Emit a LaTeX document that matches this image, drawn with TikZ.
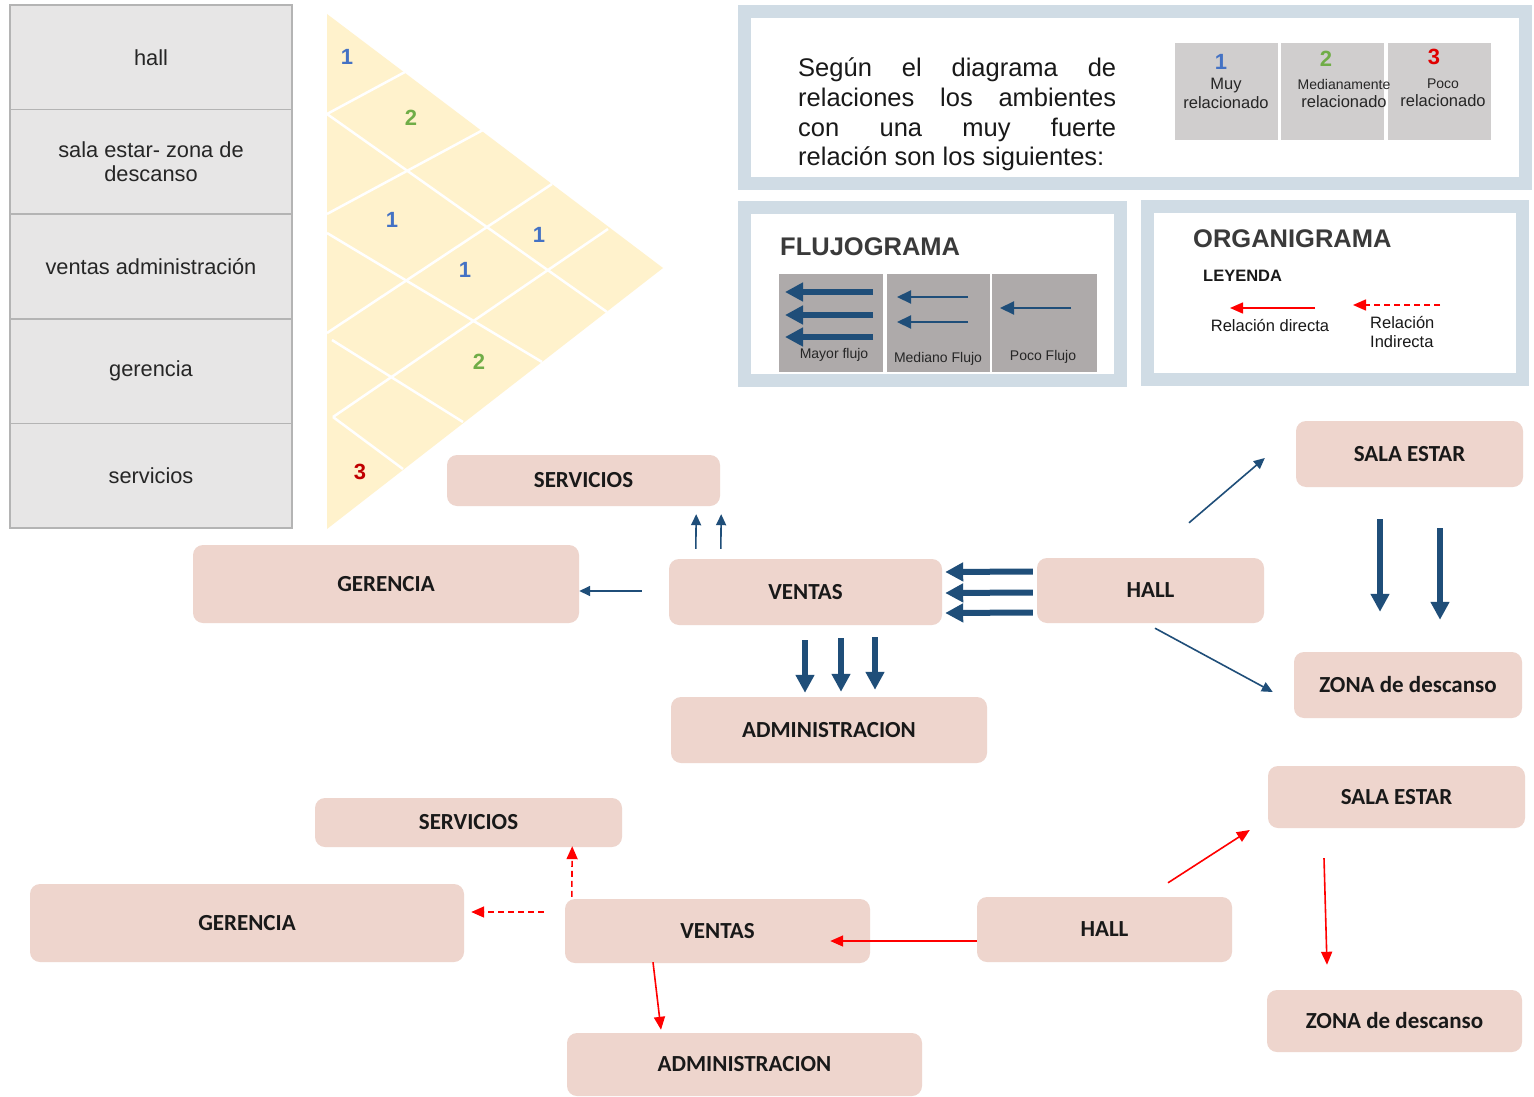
\documentclass[tikz,border=0pt]{standalone}
\usepackage{fontspec}
\setmainfont{Liberation Sans}
\newfontfamily\calib{Carlito}
\usetikzlibrary{arrows.meta}
\definecolor{framec}{HTML}{D0DCE5}
\definecolor{cellg}{HTML}{E7E6E6}
\definecolor{cellb}{HTML}{B4B4B4}
\definecolor{ytri}{HTML}{FFF2CC}
\definecolor{pinkbox}{HTML}{EED5CD}
\definecolor{dblue}{HTML}{1F4E79}
\definecolor{nblue}{HTML}{4472C4}
\definecolor{ngreen}{HTML}{70AD47}
\definecolor{nred}{HTML}{C00000}
\definecolor{nred2}{HTML}{E00000}
\definecolor{legg}{HTML}{D0CECE}
\definecolor{flug}{HTML}{AEAAAA}
\definecolor{titc}{HTML}{3A3A3A}
\definecolor{rred}{HTML}{FF0000}
\newcommand{\setfs}[2]{\fontsize{#1}{#2}\selectfont}
\tikzset{
  tcell/.style={draw=cellb, line width=1.5pt, fill=cellg, minimum width=282pt, minimum height=104.6pt, inner sep=0pt, align=center, font=\setfs{21.8}{23.5}, text=black!85},
  rbox/.style={fill=pinkbox, rounded corners=10pt, inner sep=0pt, font=\calib\bfseries\setfs{23}{26}, text=black!90},
  framebox/.style={draw=framec, line width=13pt, fill=white, inner sep=0pt},
  thickarr/.style={draw=dblue, line width=6pt, -{Triangle[width=18pt,length=18pt]}},
  thinarr/.style={draw=dblue, line width=1.6pt, -{Triangle[width=10pt,length=11pt]}},
  medarr/.style={draw=dblue, line width=2.2pt, -{Triangle[width=13pt,length=14pt]}},
  redarr/.style={draw=rred, line width=1.6pt, -{Triangle[width=11pt,length=13pt]}},
  reddash/.style={redarr, dash pattern=on 6pt off 4pt},
  num/.style={font=\bfseries\setfs{22}{24}, inner sep=0pt},
  lcell/.style={fill=legg, minimum width=103pt, minimum height=97pt, inner sep=0pt},
  fcell/.style={fill=flug, minimum height=98pt, inner sep=0pt},
  plain/.style={inner sep=0pt}
}
\begin{document}
\begin{tikzpicture}[x=1pt,y=-1pt]
\useasboundingbox[fill=white] (0,0) rectangle (1534,1097);

% ---------- table ----------
\node[tcell] (r1) at (151,57.3) {hall};
\node[tcell] (r2) at (151,161.9) {sala estar- zona de\\descanso};
\node[tcell] (r3) at (151,266.5) {ventas administración};
\node[tcell] (r4) at (151,371.1) {gerencia};
\node[tcell] (r5) at (151,475.7) {servicios};

% ---------- triangle matrix ----------
\fill[ytri] (327,14) -- (663,268) -- (327,529) -- cycle;
\begin{scope}[draw=white, line width=2.5pt]
\draw (327,114) -- (405,72);
\draw (327,114) -- (607,312);
\draw (327,214) -- (483,130);
\draw (327,233) -- (542,362);
\draw (327,333) -- (552,184);
\draw (332,340) -- (463,422);
\draw (333,417) -- (608,229);
\draw (333,417) -- (403,469);
\end{scope}
\node[num, text=nblue] (t1) at (347,57) {1};
\node[num, text=ngreen] (t2) at (411,118) {2};
\node[num, text=nblue] (t3) at (392,220) {1};
\node[num, text=nblue] (t4) at (539,235) {1};
\node[num, text=nblue] (t5) at (465,270) {1};
\node[num, text=ngreen] (t6) at (479,362) {2};
\node[num, text=nred] (t7) at (360,472) {3};

% ---------- info frame ----------
\node[framebox, minimum width=781pt, minimum height=172pt] (info) at (1135,97.5) {};
\begin{scope}[every node/.style={plain, anchor=base west, font=\setfs{25.5}{29.5}, text=black!90}]
\node (s1) at (798,77) {\makebox[318pt][s]{Según el diagrama de}};
\node (s2) at (798,107) {\makebox[318pt][s]{relaciones los ambientes}};
\node (s3) at (798,137) {\makebox[318pt][s]{con una muy fuerte}};
\node (s4) at (798,165) {relación son los siguientes:};
\end{scope}
\node[lcell] (lc1) at (1226.5,91.5) {};
\node[lcell] (lc2) at (1332.5,91.5) {};
\node[lcell] (lc3) at (1439.5,91.5) {};
\node[num, text=nblue, font=\bfseries\setfs{22}{24}] (ln1) at (1221,62) {1};
\node[num, text=ngreen, font=\bfseries\setfs{22}{24}] (ln2) at (1326,59) {2};
\node[num, text=nred2, font=\bfseries\setfs{22}{24}] (ln3) at (1434,57) {3};
\node[plain, align=center, font=\setfs{16.5}{19}, text=black!85] (lt1) at (1226,93.5) {Muy\\relacionado};
\node[plain, align=center, font=\setfs{16.5}{18}, text=black!85] (lt2) at (1344,94) {{\setfs{14}{16}Medianamente}\\relacionado};
\node[plain, align=center, font=\setfs{16.5}{18}, text=black!85] (lt3) at (1443,93) {{\setfs{14}{16}Poco}\\relacionado};

% ---------- flujograma ----------
\node[framebox, minimum width=376pt, minimum height=173pt] (fluframe) at (932.5,294) {};
\node[plain, anchor=base west, font=\bfseries\setfs{25.5}{28}, text=titc] (flutitle) at (780,255) {FLUJOGRAMA};
\node[fcell, minimum width=104pt] (c1) at (831,323) {};
\node[fcell, minimum width=103pt] (c2) at (938.5,323) {};
\node[fcell, minimum width=105pt] (c3) at (1044.5,323) {};
\draw[thickarr] ([shift={(42,-31)}]c1.center) -- ([shift={(-46,-31)}]c1.center);
\draw[thickarr] ([shift={(42,-8)}]c1.center) -- ([shift={(-46,-8)}]c1.center);
\draw[thickarr] ([shift={(42,14)}]c1.center) -- ([shift={(-46,14)}]c1.center);
\draw[medarr] ([shift={(29.5,-26)}]c2.center) -- ([shift={(-41.5,-26)}]c2.center);
\draw[medarr] ([shift={(29.5,-1)}]c2.center) -- ([shift={(-41.5,-1)}]c2.center);
\draw[medarr] ([shift={(26.5,-15)}]c3.center) -- ([shift={(-44.5,-15)}]c3.center);
\node[plain, font=\setfs{14}{16}, text=black!85] (fl1) at (834,355) {Mayor flujo};
\node[plain, font=\setfs{14}{16}, text=black!85] (fl2) at (938,359) {Mediano Flujo};
\node[plain, font=\setfs{14}{16}, text=black!85] (fl3) at (1043,357) {Poco Flujo};

% ---------- organigrama legend ----------
\node[framebox, minimum width=375pt, minimum height=173pt] (orgframe) at (1335,293) {};
\node[plain, anchor=base west, font=\bfseries\setfs{25.5}{28}, text=titc] (orgtitle) at (1193,247) {ORGANIGRAMA};
\node[plain, anchor=base west, font=\bfseries\setfs{16.5}{19}, text=black!90] (ley) at (1203,281) {LEYENDA};
\node[plain, anchor=base, font=\setfs{16.5}{19}, text=black!90] (rdir) at (1270,331) {Relación directa};
\node[plain, anchor=north west, align=left, font=\setfs{16.5}{19}, text=black!90] (rind) at (1370,316) {Relación\\Indirecta};
\draw[redarr] ([shift={(45,-23)}]rdir.base) -- ([shift={(-40,-23)}]rdir.base);
\draw[reddash] ([shift={(70,-11)}]rind.north west) -- ([shift={(-17,-11)}]rind.north west);

% ---------- flujograma diagram ----------
\node[rbox, minimum width=273pt, minimum height=51pt] (serv) at (583.5,480.5) {SERVICIOS};
\node[rbox, minimum width=386pt, minimum height=78pt] (ger) at (386,584) {GERENCIA};
\node[rbox, minimum width=273pt, minimum height=66pt] (vent) at (805.5,592) {VENTAS};
\node[rbox, minimum width=227pt, minimum height=65pt] (hall) at (1150.5,590.5) {HALL};
\node[rbox, minimum width=316pt, minimum height=66pt] (adm) at (829,730) {ADMINISTRACION};
\node[rbox, minimum width=227pt, minimum height=66pt] (sala) at (1409.5,454) {SALA ESTAR};
\node[rbox, minimum width=228pt, minimum height=66pt] (zona) at (1408,685) {ZONA de descanso};

\draw[thinarr] ([shift={(27,-10)}]vent.north west) -- ([shift={(-24,8)}]serv.south east);
\draw[thinarr] ([shift={(52,-10)}]vent.north west) -- ([shift={(1,8)}]serv.south east);
\draw[thinarr] ([shift={(-27,-1)}]vent.west) -- ([shift={(0,7)}]ger.east);
\draw[thickarr] ([shift={(-4,-19)}]hall.west) -- ([shift={(3,-20)}]vent.east);
\draw[thickarr] ([shift={(-4,2)}]hall.west) -- ([shift={(3,1)}]vent.east);
\draw[thickarr] ([shift={(-4,22)}]hall.west) -- ([shift={(3,21)}]vent.east);
\draw[thickarr] ([shift={(-0.5,15)}]vent.south) -- ([shift={(-24,-4)}]adm.north);
\draw[thickarr] ([shift={(35.5,13)}]vent.south) -- ([shift={(12,-5)}]adm.north);
\draw[thickarr] ([shift={(69.5,12)}]vent.south) -- ([shift={(46,-7)}]adm.north);
\draw[thinarr] ([shift={(38.5,-35)}]hall.north) -- ([shift={(-31,4)}]sala.west);
\draw[thinarr] ([shift={(4.5,5)}]hall.south) -- ([shift={(-21,7)}]zona.west);
\draw[thickarr] ([shift={(-29.5,32)}]sala.south) -- ([shift={(-28,-40)}]zona.north);
\draw[thickarr] ([shift={(30.5,41)}]sala.south) -- ([shift={(32,-32)}]zona.north);

% ---------- organigrama diagram ----------
\node[rbox, minimum width=307pt, minimum height=49pt] (serv2) at (468.5,822.5) {SERVICIOS};
\node[rbox, minimum width=434pt, minimum height=78pt] (ger2) at (247,923) {GERENCIA};
\node[rbox, minimum width=305pt, minimum height=64pt] (vent2) at (717.5,931) {VENTAS};
\node[rbox, minimum width=255pt, minimum height=65pt] (hall2) at (1104.5,929.5) {HALL};
\node[rbox, minimum width=355pt, minimum height=63pt] (adm2) at (744.5,1064.5) {ADMINISTRACION};
\node[rbox, minimum width=257pt, minimum height=62pt] (sala2) at (1396.5,797) {SALA ESTAR};
\node[rbox, minimum width=255pt, minimum height=62pt] (zona2) at (1394.5,1021) {ZONA de descanso};

\draw[reddash] ([shift={(7,-2)}]vent2.north west) -- ([shift={(-50,-1)}]serv2.south east);
\draw[reddash] ([shift={(-21,-19)}]vent2.west) -- ([shift={(7,-11)}]ger2.east);
\draw[redarr] ([shift={(0,11.5)}]hall2.west) -- ([shift={(-40,10)}]vent2.east);
\draw[redarr] ([shift={(-64.5,-1)}]vent2.south) -- ([shift={(-83.5,-3)}]adm2.north);
\draw[redarr] ([shift={(63.5,-14)}]hall2.north) -- ([shift={(-18,33)}]sala2.west);
\draw[redarr] ([shift={(-72.5,30)}]sala2.south) -- ([shift={(-67.5,-25)}]zona2.north);
\end{tikzpicture}
\end{document}
